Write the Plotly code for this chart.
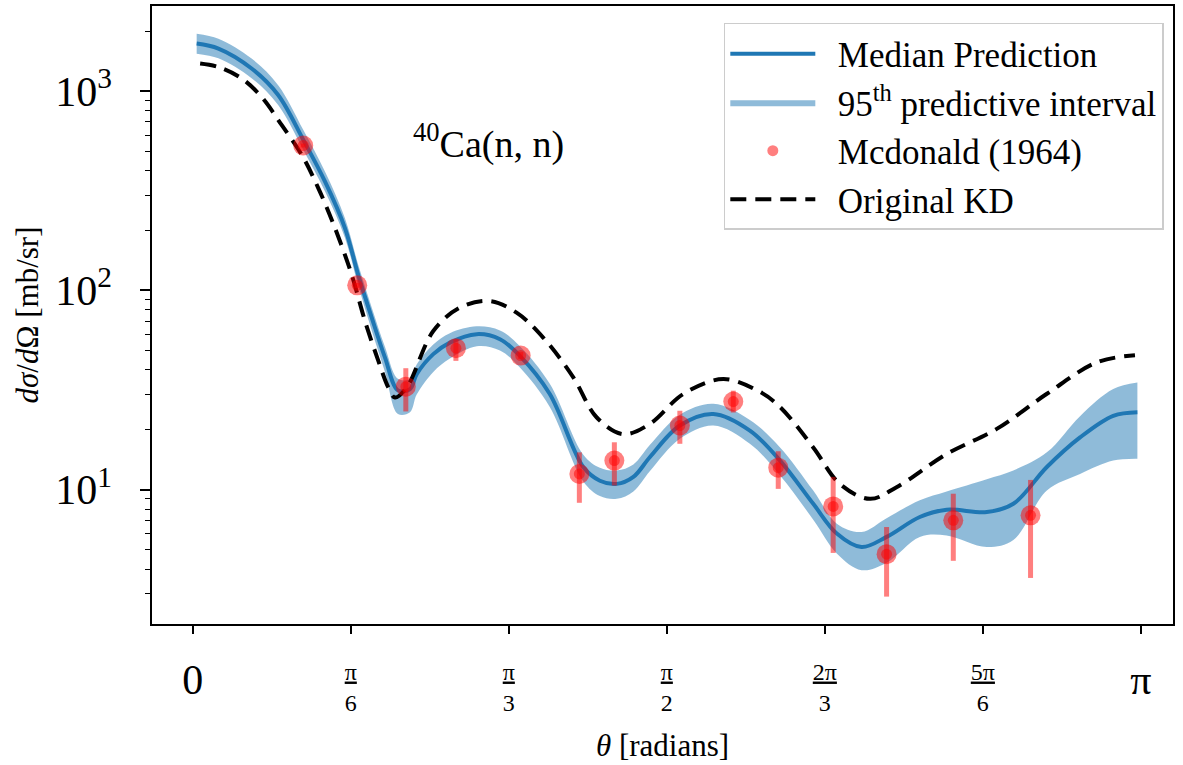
import numpy as np
import plotly.graph_objects as go

# ---------------- data ----------------
theta_pred = [0.013, 0.085, 0.195, 0.283, 0.366, 0.438, 0.504, 0.548, 0.593, 0.637,
              0.68, 0.72, 0.742, 0.797, 0.852, 0.941, 1.018, 1.084, 1.183, 1.294,
              1.349, 1.405, 1.46, 1.515, 1.614, 1.725, 1.846, 1.946, 2.056, 2.134,
              2.216, 2.299, 2.409, 2.498, 2.631, 2.719, 2.83, 2.94, 3.05, 3.13]
median = [1730, 1633, 1297, 955, 570, 352, 206, 120, 73, 46,
          31.5, 32, 38, 47.9, 54.7, 60.3, 56.9, 46.9, 30.2, 13,
          11.1, 10.7, 11.6, 14.6, 21, 24, 19.8, 14, 8.5, 6.03,
          5.16, 5.8, 7.3, 7.94, 7.73, 8.5, 13, 18.3, 23.5, 24.5]
band_lo = [1540, 1460, 1160, 850, 508, 314, 184, 106, 63, 39,
           24, 24.5, 30, 39, 45.5, 52.5, 50, 41, 26, 11,
           9.3, 9.0, 9.8, 12.4, 18, 21, 17, 11.8, 7.07, 4.79,
           3.95, 4.3, 5.8, 5.9, 5.16, 5.6, 9.9, 12, 14, 14.3]
band_hi = [1940, 1830, 1455, 1070, 640, 395, 231, 135, 82, 52,
           36, 36, 42.5, 53.5, 61, 66, 63, 52.5, 34, 15,
           12.9, 12.5, 13.4, 16.8, 23.8, 27, 22.4, 16.3, 9.9, 6.76,
           6.14, 7.2, 8.85, 9.8, 11.3, 12.5, 15.4, 23.4, 32, 34.5]

theta_kd = [0.0245, 0.0845, 0.162, 0.228, 0.2945, 0.361, 0.416, 0.471, 0.5265, 0.571,
            0.615, 0.648, 0.67, 0.709, 0.797, 0.885, 0.983, 1.073, 1.161, 1.261,
            1.338, 1.426, 1.515, 1.625, 1.758, 1.879, 1.946, 2.056, 2.144, 2.244,
            2.332, 2.498, 2.664, 2.829, 2.995, 3.122]
kd = [1375, 1320, 1156, 934, 676, 479, 326, 206, 120, 70,
      44.3, 32.6, 29, 32.6, 62.5, 81.9, 88.4, 77.3, 58, 36.6,
      23.1, 19, 21.4, 30.2, 35.9, 31.0, 26.0, 16.3, 10.7, 9.0,
      10.3, 15.1, 20.2, 30.2, 43.5, 47.3]

theta_exp = [0.366, 0.545, 0.706, 0.872, 1.0865, 1.281, 1.397, 1.614, 1.791, 1.94,
             2.122, 2.299, 2.52, 2.776]
xs_exp = [533, 106, 32.9, 51.3, 47.1, 12.0, 14.0, 21.0, 27.7, 12.9, 8.25, 4.75, 7.02, 7.44]
xs_hi = [545, 109, 40.7, 56.9, 49.0, 15.4, 17.3, 24.9, 31.4, 15.6, 11.6, 6.5, 9.55, 11.2]
xs_lo = [521, 103, 24.7, 44.3, 45.3, 8.6, 10.5, 17.0, 24.4, 10.1, 4.82, 2.91, 4.4, 3.61]

tick_vals_x = [0, np.pi / 6, np.pi / 3, np.pi / 2, 2 * np.pi / 3, 5 * np.pi / 6, np.pi]
frac_num = ["", "π", "π", "π", "2π", "5π", ""]
frac_den = ["", "6", "3", "2", "3", "6", ""]
big_vals_x = [0, np.pi]
big_text_x = ["0", "π"]
tick_vals_y = [10, 100, 1000]
tick_text_y = ["10<sup>1</sup>", "10<sup>2</sup>", "10<sup>3</sup>"]

# ---------------- figure ----------------
FONT = "Liberation Serif, Times New Roman, serif"
BLUE = "#1f77b4"
GAP = "\u00a0\u00a0"
fig = go.Figure()

fig.add_trace(go.Scatter(x=theta_pred, y=band_lo, mode="lines",
                         line=dict(width=0, shape="spline", color=BLUE),
                         showlegend=False, hoverinfo="skip"))
fig.add_trace(go.Scatter(x=theta_pred, y=band_hi, mode="lines", fill="tonexty",
                         fillcolor="rgba(31,119,180,0.5)",
                         line=dict(width=0, shape="spline", color=BLUE),
                         name=GAP + "95<sup>th</sup> predictive interval",
                         legendrank=2, legendgroup="b"))
fig.add_trace(go.Scatter(x=theta_pred, y=median, mode="lines",
                         line=dict(width=4, shape="spline", color=BLUE),
                         name=GAP + "Median Prediction", legendrank=1, legendgroup="a"))
fig.add_trace(go.Scatter(x=theta_kd, y=kd, mode="lines",
                         line=dict(width=4, shape="spline", color="black", dash="16px,9px"),
                         name=GAP + "Original KD", legendrank=4, legendgroup="d"))

err_plus = [h - v for h, v in zip(xs_hi, xs_exp)]
err_minus = [v - l for v, l in zip(xs_exp, xs_lo)]
fig.add_trace(go.Scatter(x=theta_exp, y=xs_exp, mode="markers",
                         marker=dict(size=20, color="rgba(255,0,0,0.5)", line=dict(width=0)),
                         error_y=dict(type="data", symmetric=False, array=err_plus,
                                      arrayminus=err_minus, color="rgba(255,0,0,0.5)",
                                      thickness=5, width=0),
                         showlegend=False))
fig.add_trace(go.Scatter(x=theta_exp, y=xs_exp, mode="markers",
                         marker=dict(size=11, color="rgba(255,0,0,0.5)", line=dict(width=0)),
                         showlegend=False))
# legend entry for the data
fig.add_trace(go.Scatter(x=[None], y=[None], mode="markers",
                         marker=dict(size=11, color="rgba(255,0,0,0.5)"),
                         name=GAP + "Mcdonald (1964)", legendrank=3, legendgroup="c"))
# invisible trace to carry the second x axis (large labels 0, π)
fig.add_trace(go.Scatter(x=[None], y=[None], xaxis="x2", showlegend=False))

frac_text = [("" if n == "" else
              f"<u>{n}</u><br>{d}") for n, d in zip(frac_num, frac_den)]

fig.update_layout(
    width=1183, height=765,
    margin=dict(l=152, r=10, t=4, b=141),
    paper_bgcolor="white", plot_bgcolor="white",
    font=dict(family=FONT, color="black"),
    xaxis=dict(range=[-0.135, 3.248], tickmode="array", tickvals=tick_vals_x,
               ticktext=frac_text, tickfont=dict(size=24, family=FONT),
               ticks="outside", ticklen=8, tickwidth=1.5, tickcolor="black",
               showline=True, linecolor="black", linewidth=1.5, mirror=True,
               showgrid=False, zeroline=False, ticklabelstandoff=17,
               title=dict(text="<i>θ</i> [radians]", font=dict(size=31, family=FONT),
                          standoff=20)),
    xaxis2=dict(range=[-0.135, 3.248], overlaying="x", anchor="y", side="bottom",
                tickmode="array", tickvals=big_vals_x, ticktext=big_text_x,
                tickfont=dict(size=42, family=FONT), ticks="", showline=False,
                showgrid=False, zeroline=False, ticklabelstandoff=27),
    yaxis=dict(type="log", range=[0.3265, 3.4265], tickmode="array",
               tickvals=tick_vals_y, ticktext=tick_text_y,
               tickfont=dict(size=42, family=FONT),
               ticks="outside", ticklen=10, tickwidth=1.5, tickcolor="black",
               minor=dict(ticks="outside", ticklen=5, tickwidth=1.2, tickcolor="black",
                          tickvals=[3, 4, 5, 6, 7, 8, 9, 20, 30, 40, 50, 60, 70, 80, 90,
                                    200, 300, 400, 500, 600, 700, 800, 900, 2000]),
               showline=True, linecolor="black", linewidth=1.5, mirror=True,
               showgrid=False, zeroline=False, ticklabelstandoff=20,
               title=dict(text="<i>dσ</i>/<i>d</i>Ω [mb/sr]", font=dict(size=31, family=FONT),
                          standoff=7)),
    legend=dict(x=0.991, xanchor="right", y=0.9726, yanchor="top",
                bgcolor="white", bordercolor="#cccccc", borderwidth=1.5,
                font=dict(size=35, family=FONT), itemwidth=85,
                tracegroupgap=10, traceorder="normal"),
    annotations=[dict(x=0.98, y=np.log10(558), xref="x", yref="y",
                      text="<sup>40</sup>Ca(n, n)", showarrow=False,
                      font=dict(size=38, family=FONT))],
)

fig.write_html("out.html")
